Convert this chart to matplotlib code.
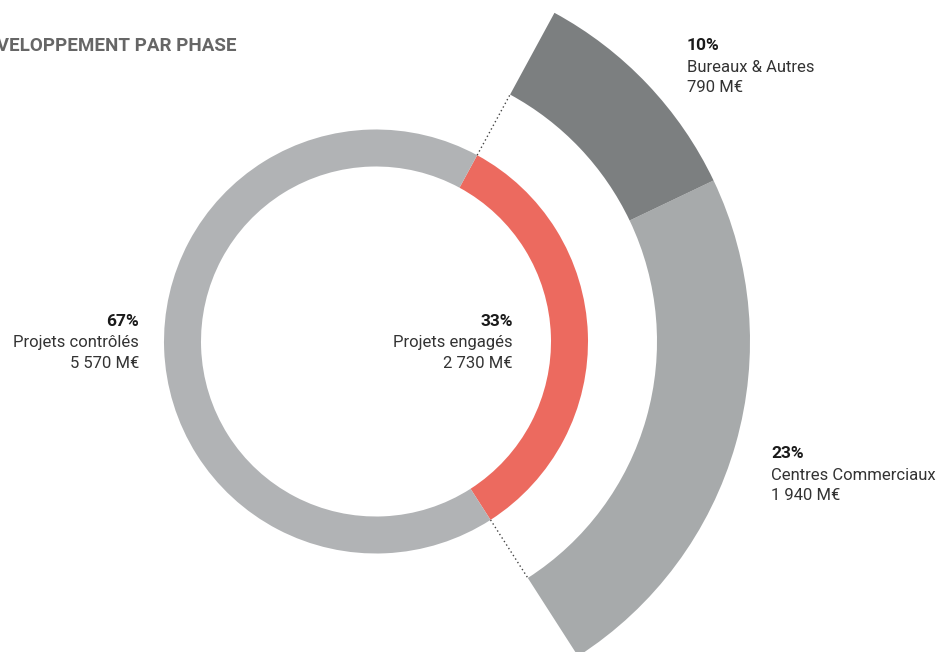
"""
Donut chart: projets de developpement par phase
"""
import numpy as np
import matplotlib.pyplot as plt
from matplotlib.patches import Wedge

plt.rcParams['font.family'] = ['Roboto', 'DejaVu Sans']

# data
inner_labels = ['Projets contrôlés', 'Projets engagés']
inner_pct = [67, 33]
inner_val = ['5 570 M€', '2 730 M€']

outer_labels = ['Centres Commerciaux', 'Bureaux & Autres']
outer_pct = [23, 10]
outer_val = ['1 940 M€', '790 M€']

title = 'DÉVELOPPEMENT PAR PHASE'

# colours
c_ctrl = '#b1b3b5'
c_eng = '#ec6a5f'
c_outer = ['#a7aaab', '#7c7f80']

W, H = 938, 652
fig = plt.figure(figsize=(W / 100, H / 100), dpi=100)
ax = fig.add_axes([0, 0, 1, 1])
ax.set_xlim(0, W)
ax.set_ylim(0, H)
ax.set_aspect('equal')
ax.axis('off')

cx, cy = 376, H - 341.5
r_in, r_out = 175, 212
R_in, R_out = 281, 374

# inner ring, engaged part starts at bottom-right
start = -57.3
eng_span = 360 * inner_pct[1] / sum(inner_pct)
a0, a1 = start, start + eng_span
ax.add_patch(Wedge((cx, cy), r_out, a0, a1, width=r_out - r_in, color=c_eng, lw=0))
ax.add_patch(Wedge((cx, cy), r_out, a1, a0 + 360, width=r_out - r_in, color=c_ctrl, lw=0))

# outer ring split of engaged projects
tot = sum(outer_pct)
a = a0
for p, c in zip(outer_pct, c_outer):
    span = eng_span * p / tot
    ax.add_patch(Wedge((cx, cy), R_out, a, a + span, width=R_out - R_in, color=c, lw=0))
    a += span

# dotted connectors
for ang in [a0, a1]:
    t = np.deg2rad(ang)
    ax.plot([cx + r_out * np.cos(t), cx + R_in * np.cos(t)],
            [cy + r_out * np.sin(t), cy + R_in * np.sin(t)],
            ls=(0, (1, 2)), color='#444444', lw=1)

# labels
def label(x, y, pct, name, val, ha):
    ax.text(x, H - y, f'{pct}%', ha=ha, va='center', fontsize=12.5,
            fontweight='bold', color='#1a1a1a')
    ax.text(x, H - y - 21, name, ha=ha, va='center', fontsize=12,
            color='#333333')
    ax.text(x, H - y - 42, val, ha=ha, va='center', fontsize=12,
            color='#333333')

label(139, 322, inner_pct[0], inner_labels[0], inner_val[0], 'right')
label(513, 322, inner_pct[1], inner_labels[1], inner_val[1], 'right')
label(687, 46, outer_pct[1], outer_labels[1], outer_val[1], 'left')
label(771, 454, outer_pct[0], outer_labels[0], outer_val[0], 'left')

ax.text(236, H - 46, title, ha='right', va='center', fontsize=13.5,
        fontweight='bold', color='#666666')

fig.savefig('out.png', dpi=100)
